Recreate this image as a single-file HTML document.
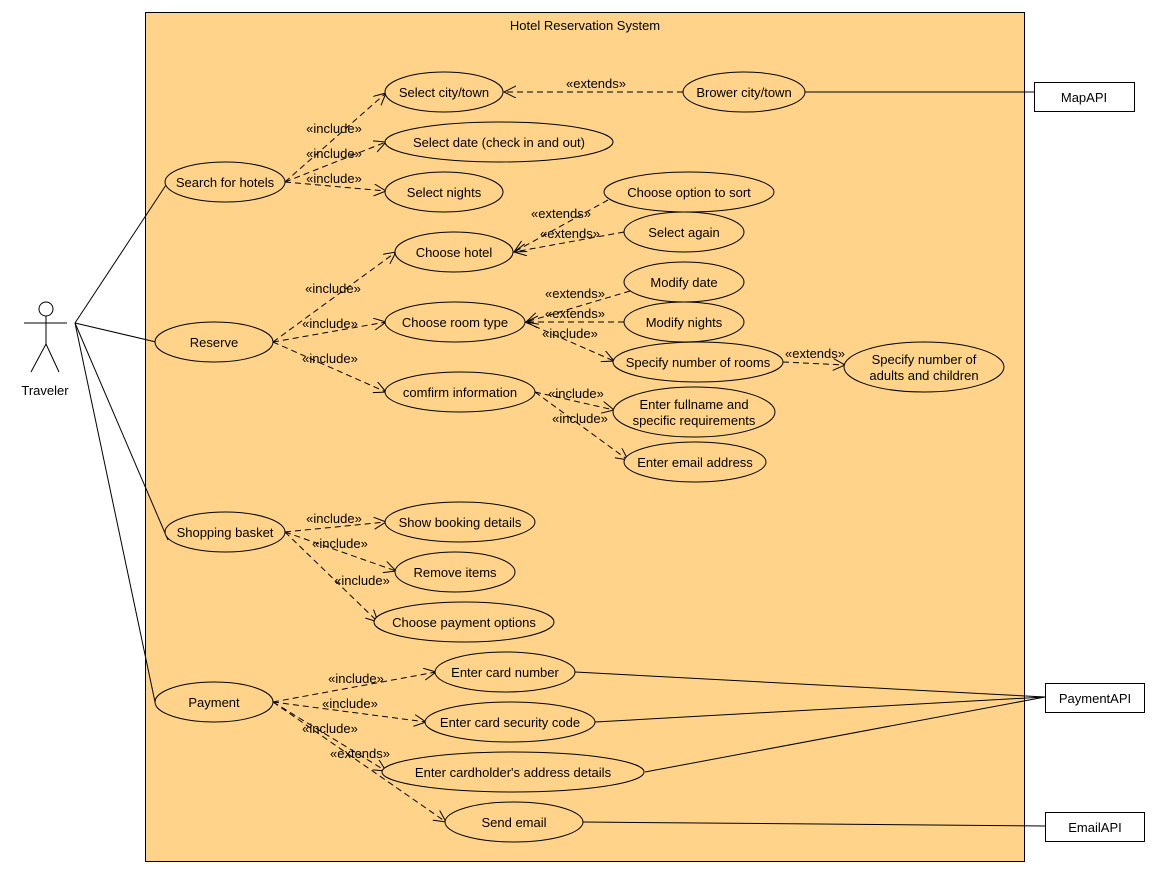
<!DOCTYPE html>
<html><head><meta charset="utf-8"><style>
html,body{margin:0;padding:0;background:#fff;}
text{font-family:"Liberation Sans",Arial,sans-serif;font-size:13px;fill:#000;}
</style></head><body>
<svg width="1157" height="888" viewBox="0 0 1157 888" xmlns="http://www.w3.org/2000/svg">
<defs>
<marker id="a" markerWidth="14" markerHeight="14" refX="12" refY="6" orient="auto" markerUnits="userSpaceOnUse">
<path d="M0,0 L12,6 L0,12" fill="none" stroke="#000" stroke-width="1"/>
</marker>
</defs>
<rect x="145.5" y="12.5" width="879" height="849" fill="#FFD48A" stroke="#000"/>
<text x="585" y="30" text-anchor="middle">Hotel Reservation System</text>

<!-- actor -->
<g stroke="#000" fill="none" stroke-width="1">
<circle cx="46" cy="309" r="7"/>
<line x1="46" y1="316" x2="46" y2="344"/>
<line x1="24" y1="323" x2="67" y2="323"/>
<line x1="46" y1="344" x2="31" y2="372"/>
<line x1="46" y1="344" x2="59" y2="372"/>
<line x1="75" y1="323" x2="166" y2="185"/>
<line x1="75" y1="323" x2="156" y2="342"/>
<line x1="75" y1="323" x2="168" y2="540"/>
<line x1="75" y1="323" x2="155" y2="702"/>
<!-- solid to APIs -->
<line x1="805" y1="92" x2="1034" y2="92"/>
<line x1="575" y1="672" x2="1045" y2="697"/>
<line x1="595" y1="722" x2="1045" y2="697"/>
<line x1="645" y1="772" x2="1045" y2="697"/>
<line x1="583" y1="822" x2="1045" y2="826"/>
</g>
<text x="45" y="395" text-anchor="middle">Traveler</text>

<!-- dashed dependencies -->
<g stroke="#000" fill="none" stroke-dasharray="6,4" marker-end="url(#a)">
<line x1="285" y1="182" x2="386" y2="93"/>
<line x1="285" y1="182" x2="386" y2="142"/>
<line x1="285" y1="182" x2="386" y2="191"/>
<line x1="683" y1="92" x2="504" y2="92"/>
<line x1="608" y1="200" x2="514" y2="252"/>
<line x1="624" y1="232" x2="514" y2="252"/>
<line x1="273" y1="342" x2="396" y2="252"/>
<line x1="273" y1="342" x2="386" y2="322"/>
<line x1="273" y1="342" x2="386" y2="392"/>
<line x1="630" y1="291" x2="526" y2="322"/>
<line x1="624" y1="322" x2="526" y2="322"/>
<line x1="525" y1="322" x2="614" y2="361"/>
<line x1="783" y1="362" x2="845" y2="365"/>
<line x1="535" y1="392" x2="614" y2="410"/>
<line x1="535" y1="392" x2="628" y2="460"/>
<line x1="285" y1="532" x2="386" y2="522"/>
<line x1="285" y1="532" x2="396" y2="571"/>
<line x1="285" y1="532" x2="378" y2="622"/>
<line x1="273" y1="702" x2="436" y2="672"/>
<line x1="273" y1="702" x2="426" y2="722"/>
<line x1="273" y1="702" x2="386" y2="771"/>
<line x1="273" y1="702" x2="446" y2="822"/>
</g>

<!-- ellipses -->
<g fill="#FFD48A" stroke="#000">
<ellipse cx="444" cy="92" rx="59" ry="20"/>
<ellipse cx="744" cy="92" rx="61" ry="20"/>
<ellipse cx="499" cy="142" rx="114" ry="20"/>
<ellipse cx="444" cy="192" rx="59" ry="20"/>
<ellipse cx="225" cy="182" rx="60" ry="20"/>
<ellipse cx="689" cy="192" rx="85" ry="20"/>
<ellipse cx="684" cy="232" rx="60" ry="20"/>
<ellipse cx="454" cy="252" rx="59" ry="20"/>
<ellipse cx="684" cy="282" rx="60" ry="20"/>
<ellipse cx="684" cy="322" rx="60" ry="20"/>
<ellipse cx="455" cy="322" rx="70" ry="20"/>
<ellipse cx="214" cy="342" rx="59" ry="20"/>
<ellipse cx="698" cy="362" rx="85" ry="20"/>
<ellipse cx="924" cy="367" rx="80" ry="25"/>
<ellipse cx="460" cy="392" rx="75" ry="20"/>
<ellipse cx="694" cy="412" rx="81" ry="25"/>
<ellipse cx="695" cy="462" rx="71" ry="20"/>
<ellipse cx="225" cy="532" rx="60" ry="20"/>
<ellipse cx="460" cy="522" rx="75" ry="20"/>
<ellipse cx="455" cy="572" rx="60" ry="20"/>
<ellipse cx="464" cy="622" rx="90" ry="20"/>
<ellipse cx="214" cy="702" rx="59" ry="20"/>
<ellipse cx="505" cy="672" rx="70" ry="20"/>
<ellipse cx="510" cy="722" rx="85" ry="20"/>
<ellipse cx="513" cy="772" rx="131" ry="20"/>
<ellipse cx="514" cy="822" rx="69" ry="20"/>
</g>
<g text-anchor="middle">
<text x="444" y="97">Select city/town</text>
<text x="744" y="97">Brower city/town</text>
<text x="499" y="147">Select date (check in and out)</text>
<text x="444" y="197">Select nights</text>
<text x="225" y="187">Search for hotels</text>
<text x="689" y="197">Choose option to sort</text>
<text x="684" y="237">Select again</text>
<text x="454" y="257">Choose hotel</text>
<text x="684" y="287">Modify date</text>
<text x="684" y="327">Modify nights</text>
<text x="455" y="327">Choose room type</text>
<text x="214" y="347">Reserve</text>
<text x="698" y="367">Specify number of rooms</text>
<text x="924" y="364">Specify number of</text>
<text x="924" y="380">adults and children</text>
<text x="460" y="397">comfirm information</text>
<text x="694" y="409">Enter fullname and</text>
<text x="694" y="425">specific requirements</text>
<text x="695" y="467">Enter email address</text>
<text x="225" y="537">Shopping basket</text>
<text x="460" y="527">Show booking details</text>
<text x="455" y="577">Remove items</text>
<text x="464" y="627">Choose payment options</text>
<text x="214" y="707">Payment</text>
<text x="505" y="677">Enter card number</text>
<text x="510" y="727">Enter card security code</text>
<text x="513" y="777">Enter cardholder's address details</text>
<text x="514" y="827">Send email</text>
</g>
<!-- labels -->
<g text-anchor="middle">
<text x="334" y="133">«include»</text>
<text x="334" y="158">«include»</text>
<text x="334" y="183">«include»</text>
<text x="596" y="88">«extends»</text>
<text x="561" y="218">«extends»</text>
<text x="570" y="238">«extends»</text>
<text x="333" y="293">«include»</text>
<text x="330" y="328">«include»</text>
<text x="330" y="363">«include»</text>
<text x="575" y="298">«extends»</text>
<text x="575" y="318">«extends»</text>
<text x="570" y="338">«include»</text>
<text x="815" y="358">«extends»</text>
<text x="576" y="398">«include»</text>
<text x="580" y="423">«include»</text>
<text x="334" y="523">«include»</text>
<text x="340" y="548">«include»</text>
<text x="362" y="585">«include»</text>
<text x="356" y="683">«include»</text>
<text x="350" y="708">«include»</text>
<text x="330" y="733">«include»</text>
<text x="360" y="758">«extends»</text>
</g>

<!-- API boxes -->
<g fill="#fff" stroke="#000">
<rect x="1034.5" y="82.5" width="100" height="29"/>
<rect x="1045.5" y="683.5" width="99" height="29"/>
<rect x="1045.5" y="812.5" width="99" height="29"/>
</g>
<g text-anchor="middle">
<text x="1084" y="102">MapAPI</text>
<text x="1095" y="703">PaymentAPI</text>
<text x="1095" y="832">EmailAPI</text>
</g>
</svg>
</body></html>
